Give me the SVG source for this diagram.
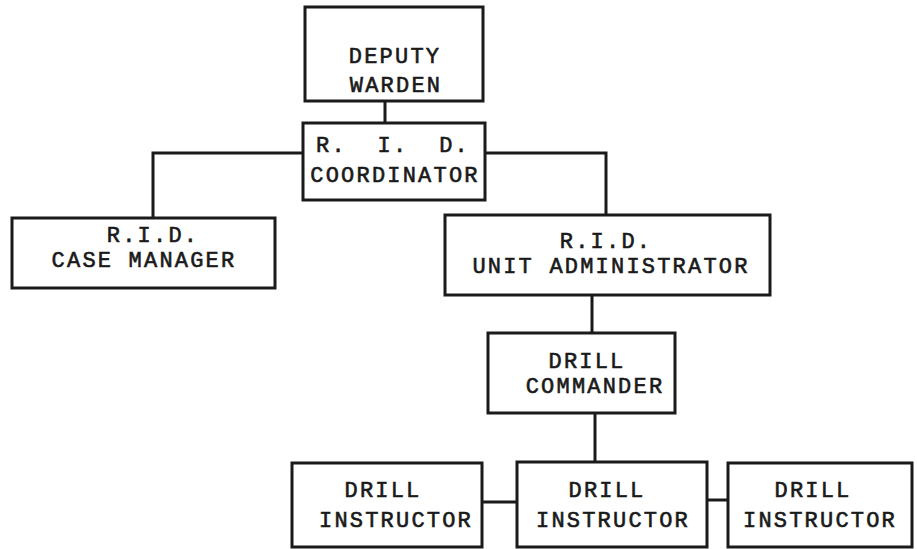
<svg xmlns="http://www.w3.org/2000/svg" width="917" height="549" viewBox="0 0 917 549">
<style>
.box{fill:none;stroke:#1a1a1a;stroke-width:3}
.ln{fill:none;stroke:#1a1a1a;stroke-width:3}
.t{font-family:"Liberation Mono","DejaVu Sans Mono",monospace;font-size:22px;letter-spacing:2.2px;fill:#1a1a1a;text-anchor:middle;stroke:#1a1a1a;stroke-width:0.6}
</style>
<rect width="917" height="549" fill="#ffffff"/>
<g id="connectors">
<polyline class="ln" points="385,101 385,123"/>
<polyline class="ln" points="303,153 153,153 153,218"/>
<polyline class="ln" points="485,153 606,153 606,215"/>
<polyline class="ln" points="592,295 592,333"/>
<polyline class="ln" points="595,413 595,462"/>
<polyline class="ln" points="482,502 517,502"/>
<polyline class="ln" points="707,500 728,500"/>
</g>
<g id="deputy-warden">
<rect class="box" x="305" y="7" width="178" height="94"/>
<text class="t" x="395" y="63">DEPUTY</text>
<text class="t" x="396" y="92">WARDEN</text>
</g>
<g id="rid-coordinator">
<rect class="box" x="303" y="123" width="182" height="77"/>
<text class="t" x="393" y="152" xml:space="preserve">R.  I.  D.</text>
<text class="t" x="395" y="182">COORDINATOR</text>
</g>
<g id="case-manager">
<rect class="box" x="12" y="218" width="263" height="70"/>
<text class="t" x="153" y="242">R.I.D.</text>
<text class="t" x="144" y="267">CASE MANAGER</text>
</g>
<g id="unit-administrator">
<rect class="box" x="445" y="215" width="325" height="80"/>
<text class="t" x="606" y="248">R.I.D.</text>
<text class="t" x="611" y="273">UNIT ADMINISTRATOR</text>
</g>
<g id="drill-commander">
<rect class="box" x="488" y="333" width="187" height="80"/>
<text class="t" x="587" y="368">DRILL</text>
<text class="t" x="595" y="393">COMMANDER</text>
</g>
<g id="drill-instructor-1">
<rect class="box" x="292" y="463" width="190" height="84"/>
<text class="t" x="383" y="497">DRILL</text>
<text class="t" x="396" y="527">INSTRUCTOR</text>
</g>
<g id="drill-instructor-2">
<rect class="box" x="517" y="462" width="190" height="85"/>
<text class="t" x="607" y="497">DRILL</text>
<text class="t" x="613" y="527">INSTRUCTOR</text>
</g>
<g id="drill-instructor-3">
<rect class="box" x="728" y="463" width="184" height="84"/>
<text class="t" x="813" y="497">DRILL</text>
<text class="t" x="820" y="527">INSTRUCTOR</text>
</g>
</svg>
